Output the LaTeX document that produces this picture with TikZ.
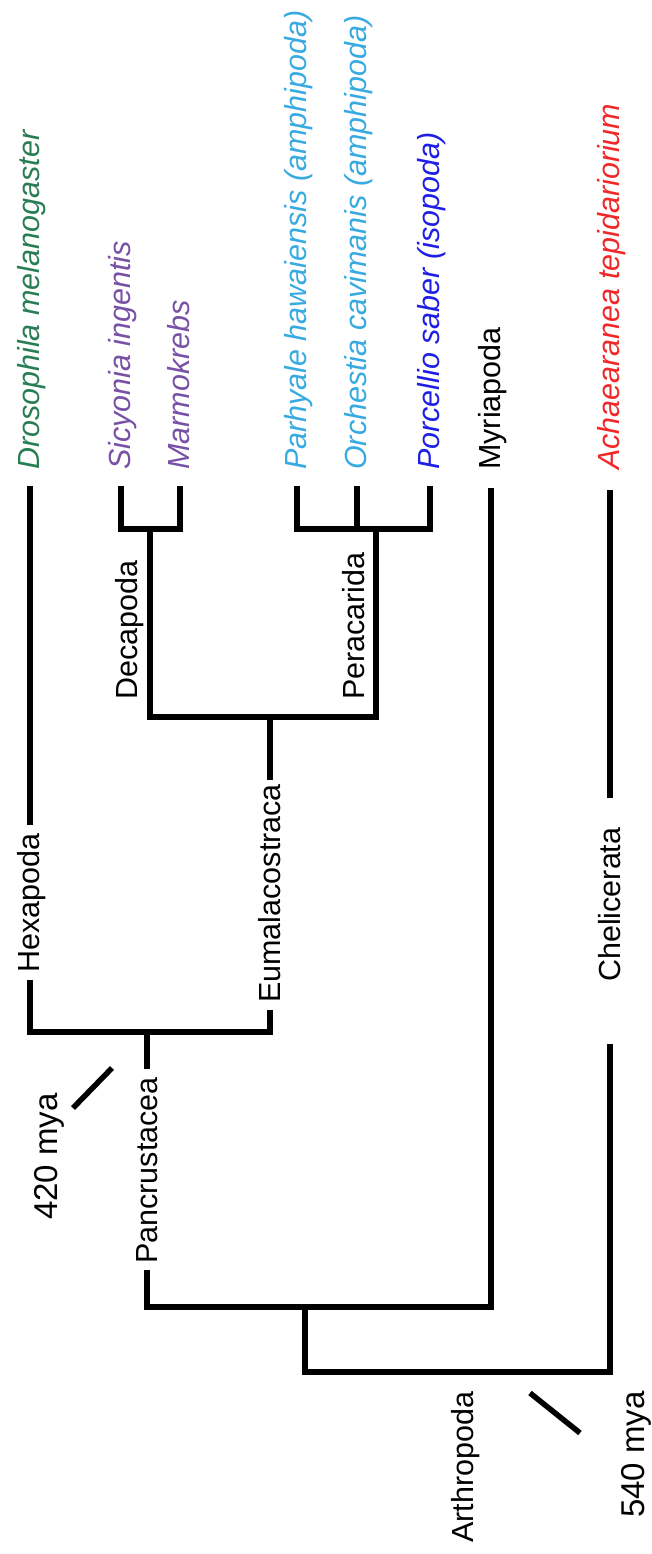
\documentclass[tikz,border=0pt]{standalone}
\usepackage{fontspec}
\setmainfont{Liberation Sans}
\definecolor{dgreen}{RGB}{40,125,85}
\definecolor{dpurple}{RGB}{120,80,165}
\definecolor{lblue}{RGB}{55,170,225}
\definecolor{dblue}{RGB}{30,30,230}
\definecolor{dred}{RGB}{240,40,40}
\begin{document}
\begin{tikzpicture}[x=1pt,y=-1pt,
  br/.style={line width=6pt, line join=miter, line cap=butt},
  tickmark/.style={line width=5.5pt},
  lab/.style={rotate=90, inner xsep=4pt, inner ysep=0pt, anchor=base west, font=\fontsize{30.5}{36}\selectfont},
  sp/.style={lab, font=\fontsize{30.5}{36}\selectfont\itshape},
  mya/.style={lab, font=\fontsize{33}{40}\selectfont}]
\useasboundingbox (0,0) rectangle (652,1554);

% leaf labels
\node[sp, text=dgreen] (dro) at (39,474) {Drosophila melanogaster};
\node[sp, text=dpurple] (sic) at (130,474) {Sicyonia ingentis};
\node[sp, text=dpurple] (mar) at (189,474) {Marmokrebs};
\node[sp, text=lblue] (par) at (306,474) {Parhyale hawaiensis (amphipoda)};
\node[sp, text=lblue] (orc) at (366,474) {Orchestia cavimanis (amphipoda)};
\node[sp, text=dblue] (por) at (439,474) {Porcellio saber (isopoda)};
\node[lab] (myr) at (500,474) {Myriapoda};
\node[sp, text=dred] (ach) at (619,474) {Achaearanea tepidariorium};

% clade labels
\node[lab] (hex) at (39,977) {Hexapoda};
\node[lab] (eum) at (280,1007) {Eumalacostraca};
\node[lab] (pan) at (157,1268) {Pancrustacea};
\node[lab] (che) at (620,986) {Chelicerata};
\node[lab] (dec) at (137,704) {Decapoda};
\node[lab] (per) at (364,704) {Peracarida};
\node[lab] (art) at (473,1547) {Arthropoda};
\node[mya] (m420) at (57,1224) {420 mya};
\node[mya] (m540) at (644,1522) {540 mya};

% coordinates
\coordinate (droT) at (30,486);
\coordinate (droH) at (30,825);
\coordinate (hexB) at (30,980);
\coordinate (hexJ) at (30,1032);
\coordinate (sicT) at (121,486);
\coordinate (sicJ) at (121,529);
\coordinate (marT) at (180,486);
\coordinate (marJ) at (180,529);
\coordinate (decJ) at (150,529);
\coordinate (decB) at (150,717);
\coordinate (parT) at (297,486);
\coordinate (parJ) at (297,529);
\coordinate (orcT) at (357,486);
\coordinate (orcJ) at (357,529);
\coordinate (porT) at (430,486);
\coordinate (porJ) at (430,529);
\coordinate (perJ) at (376,529);
\coordinate (perB) at (376,717);
\coordinate (eumT) at (270,717);
\coordinate (eumA) at (270,780);
\coordinate (eumC) at (270,1010);
\coordinate (eumJ) at (270,1032);
\coordinate (panT) at (147,1032);
\coordinate (panA) at (147,1069);
\coordinate (panC) at (147,1270);
\coordinate (panJ) at (147,1307);
\coordinate (myrT) at (491,488);
\coordinate (myrJ) at (491,1307);
\coordinate (artT) at (305,1307);
\coordinate (artJ) at (305,1372);
\coordinate (achT) at (610,490);
\coordinate (achA) at (610,798);
\coordinate (cheC) at (610,1044);
\coordinate (cheJ) at (610,1372);
\coordinate (t4a) at (112,1068);
\coordinate (t4b) at (73,1108);
\coordinate (t5a) at (530,1393);
\coordinate (t5b) at (580,1433);

% branches
\draw[br] (sicT) -- (sicJ) -- (marJ) -- (marT);
\draw[br] (parT) -- (parJ) -- (porJ) -- (porT);
\draw[br] (orcT) -- (orcJ);
\draw[br] (decJ) -- (decB) -- (perB) -- (perJ);
\draw[br] (eumT) -- (eumA);
\draw[br] (droT) -- (droH);
\draw[br] (hexB) -- (hexJ) -- (eumJ) -- (eumC);
\draw[br] (panT) -- (panA);
\draw[br] (panC) -- (panJ) -- (myrJ) -- (myrT);
\draw[br] (achT) -- (achA);
\draw[br] (artT) -- (artJ) -- (cheJ) -- (cheC);
\draw[tickmark] (t4a) -- (t4b);
\draw[tickmark] (t5a) -- (t5b);
\end{tikzpicture}
\end{document}
